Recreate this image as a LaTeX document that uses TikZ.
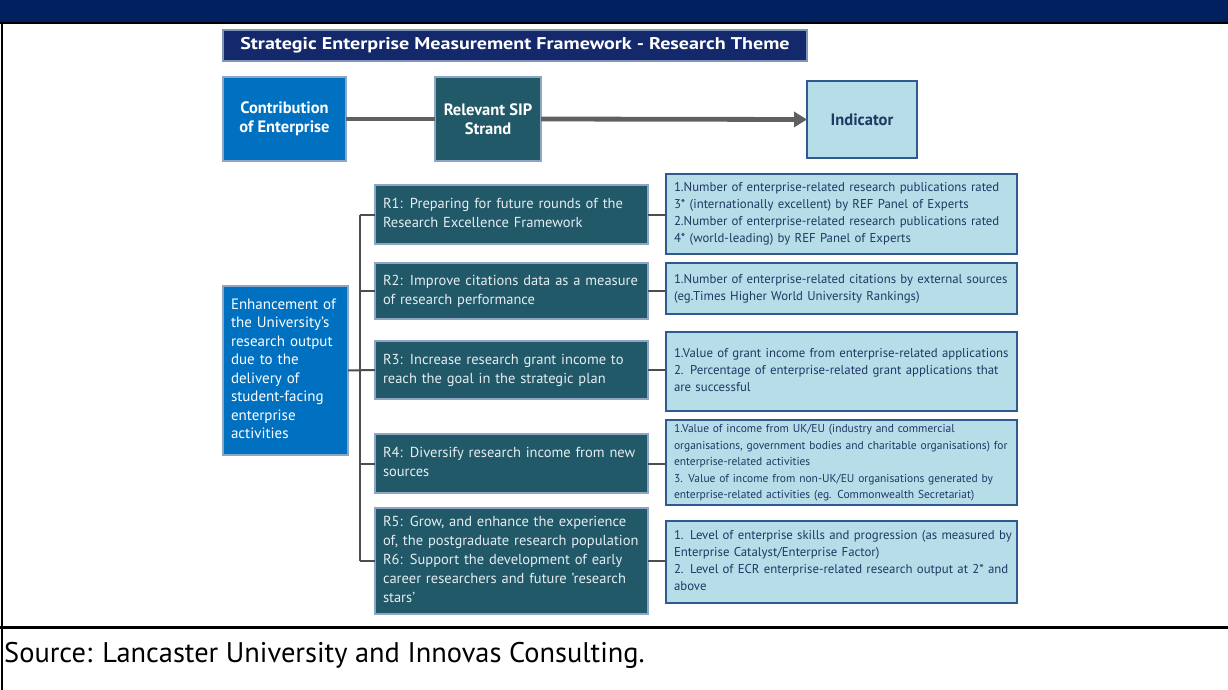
\documentclass[tikz,border=0pt]{standalone}
\usepackage{fontspec}
\setmainfont{PT Sans}
\usetikzlibrary{arrows.meta}
\definecolor{hdrnavy}{HTML}{002060}
\definecolor{ttlnavy}{HTML}{14296B}
\definecolor{ttlborder}{HTML}{8096B6}
\definecolor{entblue}{HTML}{0070C0}
\definecolor{boxborder}{HTML}{8DA6C6}
\definecolor{sipteal}{HTML}{215968}
\definecolor{indfill}{HTML}{B7DEE8}
\definecolor{indborder}{HTML}{2F5A8F}
\definecolor{indtext}{HTML}{1F3864}
\definecolor{linegray}{HTML}{4D4D4D}
\definecolor{arrowgray}{HTML}{606060}
\definecolor{striptext}{HTML}{E6EDF2}
\newcommand{\lns}[1]{\begin{tabular}{@{}l@{}}#1\end{tabular}}
\begin{document}
\begin{tikzpicture}[x=1pt,y=-1pt,
  base/.style={anchor=north west, inner sep=0pt, outer sep=0pt},
  titlebox/.style={base, fill=ttlnavy, draw=ttlborder, line width=1.5pt, text=white,
    font=\bfseries\fontsize{17}{20}\selectfont, align=center},
  bluebox/.style={base, fill=entblue, draw=boxborder, line width=1.2pt, text=white},
  stratbox/.style={base, fill=sipteal, draw=boxborder, line width=1.2pt, text=striptext},
  indbox/.style={base, fill=indfill, draw=indborder, line width=2pt, text=indtext},
  headtext/.style={font=\bfseries\fontsize{16.5}{19}\selectfont, align=center},
  strandtext/.style={font=\fontsize{14.5}{19}\selectfont, text width=257pt, inner xsep=8pt, align=left},
  indtextstyle/.style={font=\fontsize{12.8}{17}\selectfont, text width=335pt, inner xsep=8pt, align=left},
  tree/.style={draw=linegray, line width=2pt},
  mainarrow/.style={draw=arrowgray, line width=4.8pt}
]
\useasboundingbox (0,0) rectangle (1228,690);
\fill[white] (0,0) rectangle (1228,690);
\fill[hdrnavy] (0,0) rectangle (1228,22);
\draw[black, line width=2.5pt] (0,23) -- (1228,23);
\draw[black, line width=2pt] (2,23) -- (2,690);
\draw[black, line width=3pt] (0,627) -- (1228,627);
\node[anchor=west, inner sep=0pt, font=\fontsize{28.4}{32}\selectfont] (src) at (4,655)
  {Source: Lancaster University and Innovas Consulting.};

\node[titlebox, minimum width=584pt, minimum height=31pt] (title) at (223,30)
  {\scalebox{1.18}[1]{Strategic Enterprise Measurement Framework - Research Theme}};

\node[bluebox, headtext, minimum width=123pt, minimum height=84pt] (contrib) at (223,77)
  {Contribution\\of Enterprise};
\node[stratbox, headtext, text=white, minimum width=106pt, minimum height=84pt] (sip) at (435,77)
  {Relevant SIP\\Strand};
\node[indbox, headtext, minimum width=110pt, minimum height=77pt] (ind) at (807,81)
  {Indicator};

\node[bluebox, font=\fontsize{15}{18.5}\selectfont, text width=109pt, inner xsep=8pt,
  align=left, minimum height=169pt] (enh) at (223,286)
  {\lns{Enhancement of\\the University's\\research output\\due to the\\delivery of\\student-facing\\enterprise\\activities}};

\node[stratbox, strandtext, minimum height=59pt] (r1) at (375,185)
  {\lns{R1: Preparing for future rounds of the\\Research Excellence Framework}};
\node[stratbox, strandtext, minimum height=56pt] (r2) at (375,263)
  {\lns{R2: Improve citations data as a measure\\of research performance}};
\node[stratbox, strandtext, minimum height=58pt] (r3) at (375,341)
  {\lns{R3: Increase research grant income to\\reach the goal in the strategic plan}};
\node[stratbox, strandtext, minimum height=59pt] (r4) at (375,434)
  {\lns{R4: Diversify research income from new\\sources}};
\node[stratbox, strandtext, minimum height=106pt] (r5) at (375,508)
  {\lns{R5: Grow, and enhance the experience\\of, the postgraduate research population\\R6: Support the development of early\\career researchers and future 'research\\stars'}};

\node[indbox, indtextstyle, minimum height=80pt] (i1) at (666,174)
  {\lns{1.Number of enterprise-related research publications rated\\3* (internationally excellent) by REF Panel of Experts\\2.Number of enterprise-related research publications rated\\4* (world-leading) by REF Panel of Experts}};
\node[indbox, indtextstyle, minimum height=51pt] (i2) at (666,263)
  {\lns{1.Number of enterprise-related citations by external sources\\(eg.Times Higher World University Rankings)}};
\node[indbox, indtextstyle, minimum height=79pt] (i3) at (666,332)
  {\lns{1.Value of grant income from enterprise-related applications\\2. Percentage of enterprise-related grant applications that\\are successful}};
\node[indbox, indtextstyle, font=\fontsize{11.5}{16.5}\selectfont, minimum height=85pt] (i4) at (666,420)
  {\lns{1.Value of income from UK/EU (industry and commercial\\organisations, government bodies and charitable organisations) for\\enterprise-related activities\\3. Value of income from non-UK/EU organisations generated by\\enterprise-related activities (eg. Commonwealth Secretariat)}};
\node[indbox, indtextstyle, minimum height=82pt] (i5) at (666,521)
  {\lns{1. Level of enterprise skills and progression (as measured by\\Enterprise Catalyst/Enterprise Factor)\\2. Level of ECR enterprise-related research output at 2* and\\above}};

% main flow
\draw[mainarrow] (contrib.east) -- (sip.west);
\draw[mainarrow, -{Triangle[length=13pt,width=15pt]}] (sip.east) -- (ind.west);

% tree
\coordinate (trunk) at (360,0);
\draw[tree] (enh.east) -- (r3.west);
\draw[tree] (r1.west -| trunk) -- (r5.west -| trunk);
\draw[tree] (r1.west -| trunk) -- (r1.west);
\draw[tree] (r2.west -| trunk) -- (r2.west);
\draw[tree] (r4.west -| trunk) -- (r4.west);
\draw[tree] (r5.west -| trunk) -- (r5.west);

% strand to indicator
\draw[tree] (r1.east) -- (r1.east -| i1.west);
\draw[tree] (r2.east) -- (r2.east -| i2.west);
\draw[tree] (r3.east) -- (r3.east -| i3.west);
\draw[tree] (r4.east) -- (r4.east -| i4.west);
\draw[tree] (r5.east) -- (r5.east -| i5.west);
\end{tikzpicture}
\end{document}
